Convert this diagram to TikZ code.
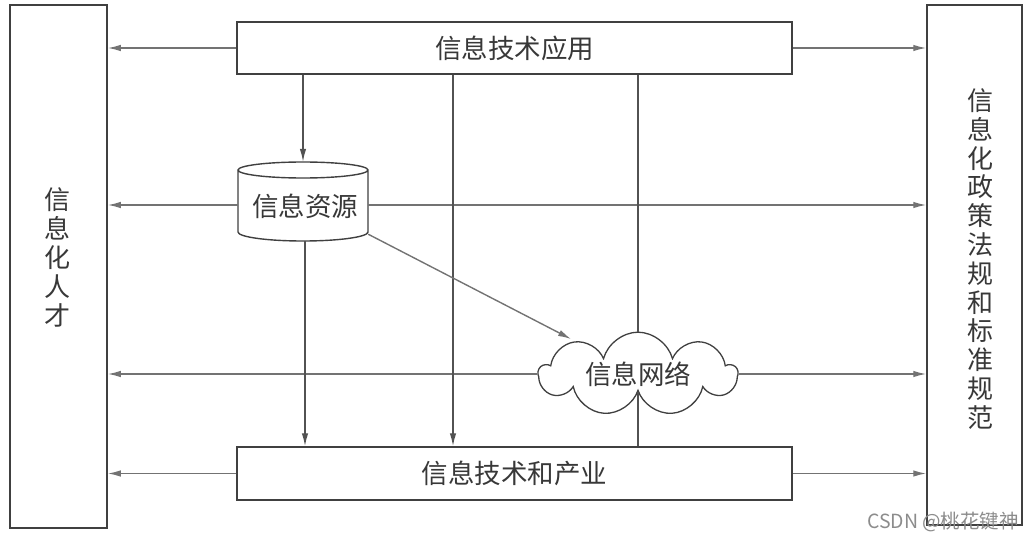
\documentclass[tikz,border=0pt]{standalone}
\usepackage{fontspec}
\newfontfamily\cjk{Noto Sans CJK SC}
\usetikzlibrary{shapes.symbols,arrows.meta,calc}
\begin{document}
\begin{tikzpicture}[x=1pt,y=1pt,
  box/.style={draw=black!75, line width=1.5pt, fill=white, inner sep=0pt},
  lbl/.style={font=\cjk\fontsize{26.5}{26.5}\selectfont, text=black!78},
  arr/.style={draw=black!55, line width=1.4pt, -{Latex[length=13pt,width=6.5pt]}},
  varr/.style={draw=black!68, line width=1.4pt, -{Latex[length=13pt,width=6.5pt]}},
  ln/.style={draw=black!68, line width=1.4pt},
]
\useasboundingbox (0,0) rectangle (1033,542);

% side boxes
\node[box, minimum width=97pt, minimum height=523pt] (lbox) at (58.5,275.5) {};
\node[box, minimum width=95pt, minimum height=520pt] (rbox) at (974.5,277) {};
\node[lbl, align=center, font=\cjk\fontsize{26}{29}\selectfont] (ltext) at (57,285) {信\\息\\化\\人\\才};
\node[lbl, align=center, font=\cjk\fontsize{26}{28.8}\selectfont] (rtext) at (980,283) {信\\息\\化\\政\\策\\法\\规\\和\\标\\准\\规\\范};

% top and bottom boxes
\node[box, lbl, minimum width=555pt, minimum height=52pt] (top) at (514.5,494) {信息技术应用};
\node[box, lbl, minimum width=555pt, minimum height=53pt] (bot) at (514.5,68.5) {信息技术和产业};

% information resources (cylinder)
\node[lbl, minimum width=130pt, minimum height=80pt, inner sep=0pt] (res) at (303,340) {};
\draw[draw=black!75, line width=1.4pt, fill=white]
  (238,372) -- (238,310) arc[start angle=180, end angle=360, x radius=65, y radius=9]
  -- (368,372) arc[start angle=0, end angle=180, x radius=65, y radius=8]
  arc[start angle=180, end angle=360, x radius=65, y radius=8];
\node[lbl] (restext) at (305,336) {信息资源};

% information network (cloud)
\node[cloud, cloud puffs=9, cloud ignores aspect, draw=black!75, line width=1.3pt,
      fill=white, minimum width=198pt, minimum height=82pt, lbl] (net) at (638,168) {信息网络};
\coordinate (netin) at ([xshift=-67pt,yshift=35pt]net.center);

% horizontal connectors
\draw[arr] (top.west) -- (lbox.east |- top.west);
\draw[arr] (top.east) -- (rbox.west |- top.east);
\coordinate (rw) at ([yshift=-3pt]res.west);
\coordinate (re) at ([yshift=-3pt]res.east);
\draw[arr] (rw) -- (lbox.east |- rw);
\draw[arr] (re) -- (rbox.west |- re);
\draw[arr] (net.west) -- (lbox.east |- net.west);
\draw[arr] (net.east) -- (rbox.west |- net.east);
\draw[arr] (bot.west) -- (lbox.east |- bot.west);
\draw[arr] (bot.east) -- (rbox.west |- bot.east);

% vertical connectors
\draw[varr] (res.north |- top.south) -- (res.north);
\coordinate (rs) at ([xshift=2pt,yshift=1pt]res.south);
\draw[varr] (rs) -- (rs |- bot.north);
\coordinate (tm) at ([xshift=-61.5pt]top.south);
\draw[varr] (tm) -- (tm |- bot.north);
\draw[ln] (net.north |- top.south) -- (net.north);
\draw[ln] (net.south) -- (net.south |- bot.north);

% diagonal
\draw[arr] ([yshift=8pt]res.south east) -- (netin);

% watermark
\node[font=\cjk\fontsize{19.5}{19.5}\selectfont, text=black!45] (wm) at (943,20) {CSDN @桃花键神};
\end{tikzpicture}
\end{document}
